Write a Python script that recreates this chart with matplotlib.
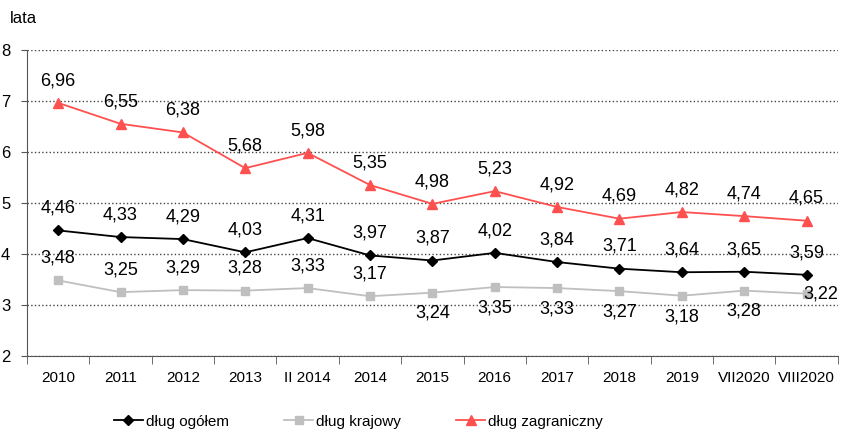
import numpy as np
import matplotlib.pyplot as plt

plt.rcParams['font.family'] = ['Liberation Sans', 'DejaVu Sans']

kategorie = ['2010', '2011', '2012', '2013', 'II 2014', '2014', '2015', '2016',
             '2017', '2018', '2019', 'VII2020', 'VIII2020']
ogolem = [4.46, 4.33, 4.29, 4.03, 4.31, 3.97, 3.87, 4.02, 3.84, 3.71, 3.64, 3.65, 3.59]
krajowy = [3.48, 3.25, 3.29, 3.28, 3.33, 3.17, 3.24, 3.35, 3.33, 3.27, 3.18, 3.28, 3.22]
zagraniczny = [6.96, 6.55, 6.38, 5.68, 5.98, 5.35, 4.98, 5.23, 4.92, 4.69, 4.82, 4.74, 4.65]
# pozycja etykiet dla długu krajowego: nad / pod / z prawej
poz_kraj = ['up'] * 6 + ['down'] * 6 + ['right']

fig = plt.figure(figsize=(8.42, 4.33), dpi=100)
ax = fig.add_axes([0.032, 0.178, 0.963, 0.707])

x = np.arange(len(kategorie))
ax.plot(x, ogolem, color='black', marker='D', markersize=5, linewidth=1.3, label='dług ogółem')
ax.plot(x, krajowy, color='#BFBFBF', marker='s', markersize=6, linewidth=1.3, label='dług krajowy')
ax.plot(x, zagraniczny, color='#FF5050', marker='^', markersize=7, linewidth=1.3, label='dług zagraniczny')

def fmt(v):
    return ('%.2f' % v).replace('.', ',')

for xi, v in zip(x, zagraniczny):
    ax.annotate(fmt(v), (xi, v), xytext=(0, 16), textcoords='offset points',
                ha='center', va='center', fontsize=13)
for xi, v in zip(x, ogolem):
    ax.annotate(fmt(v), (xi, v), xytext=(0, 16), textcoords='offset points',
                ha='center', va='center', fontsize=13)
for xi, v, p in zip(x, krajowy, poz_kraj):
    if p == 'up':
        off, ha = (0, 16), 'center'
    elif p == 'down':
        off, ha = (0, -15), 'center'
    else:
        off, ha = (-2, 0), 'left'
    ax.annotate(fmt(v), (xi, v), xytext=off, textcoords='offset points',
                ha=ha, va='center', fontsize=13)

ax.set_xlim(-0.5, len(kategorie) - 0.5)
ax.set_ylim(2, 8)
ax.set_yticks([2, 3, 4, 5, 6, 7, 8])
ax.set_yticklabels(['2', '3', '4', '5', '6', '7', '8'], fontsize=12)
ax.set_xticks(x)
ax.set_xticklabels(kategorie, fontsize=11)
ax.set_xticks(np.arange(-0.5, len(kategorie)), minor=True)
ax.tick_params(axis='x', which='major', length=0, pad=11)
ax.tick_params(axis='x', which='minor', length=6, color='#555555')
ax.tick_params(axis='y', length=4, color='#555555', pad=8)
ax.grid(axis='y', linestyle=':', color='#444444', linewidth=1)
ax.set_axisbelow(True)
for s in ['top', 'right']:
    ax.spines[s].set_visible(False)
ax.spines['left'].set_color('#555555')
ax.spines['bottom'].set_color('#555555')

fig.text(0.012, 0.948, 'lata', fontsize=12)

fig.legend(loc='lower left', bbox_to_anchor=(0.119, -0.022), ncol=3, frameon=False,
           fontsize=11, columnspacing=3.6, handlelength=1.9, handletextpad=0.2)

plt.savefig('out.png', dpi=100)
